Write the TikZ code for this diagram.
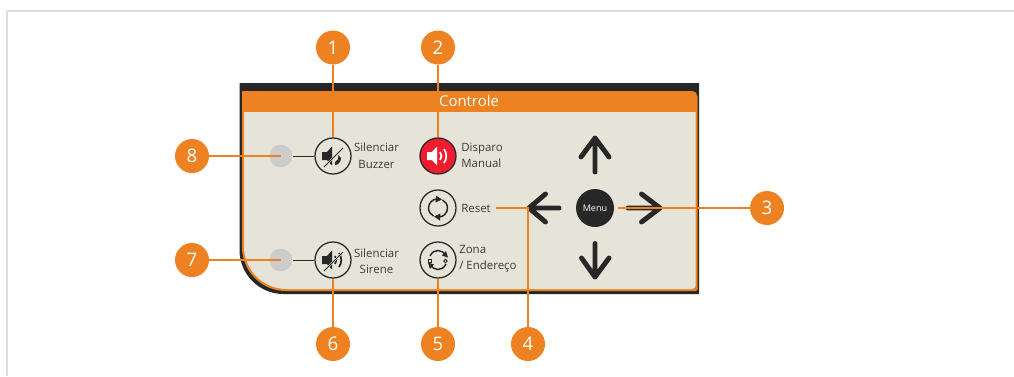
\documentclass[tikz,border=0pt]{standalone}
\usepackage{fontspec}
\setmainfont{Open Sans}
\definecolor{orng}{HTML}{EE8222}
\definecolor{dark}{HTML}{262726}
\definecolor{panel}{HTML}{E6E4D9}
\definecolor{led}{HTML}{CCCCCC}
\definecolor{redb}{HTML}{ED1C2E}
\definecolor{txt}{HTML}{3A3A3A}
\definecolor{edge}{HTML}{DDDDDD}
\tikzset{
  numdot/.style={circle,fill=orng,text=white,minimum size=25.5pt,inner sep=0pt,font=\fontsize{14}{15}\selectfont},
  btn/.style={circle,draw=dark,line width=0.95pt,minimum size=27pt,inner sep=0pt},
  ledlamp/.style={circle,fill=led,minimum size=17pt,inner sep=0pt},
  lbl/.style={inner sep=0pt,text=txt,font=\fontsize{8.6}{12.4}\selectfont},
  lead/.style={draw=orng,line width=1.8pt},
  padarrow/.style={draw=dark,line width=3.7pt,line cap=round,line join=round},
  pics/speaker/.style={code={
    \fill[#1] (-11,-4) -- (-6,-4) -- (-1,-9.5) -- (-1,9.5) -- (-6,4) -- (-11,4) -- cycle;
  }}
}
\begin{document}
\begin{tikzpicture}[x=0.75pt,y=-0.75pt]
\useasboundingbox (0,0) rectangle (1014,376);
\fill[white] (0,0) rectangle (1014,376);
\draw[edge,line width=1.5pt] (6.5,376) -- (6.5,10.5) -- (1014,10.5);
% panel
\fill[dark] (239.5,83) -- (699,83) -- (699,294) [rounded corners=33pt] -- (239.5,294) [sharp corners] -- cycle;
\fill[orng] [rounded corners=4pt] (242,91) -- (697.5,91) [rounded corners=1pt] -- (697.5,291) [rounded corners=33pt] -- (242,291) [sharp corners] -- cycle;
\fill[panel] (244,112) -- (695.7,112) [rounded corners=3pt] -- (695.7,289) [rounded corners=32pt] -- (244,289) [sharp corners] -- cycle;
\node[text=white,inner sep=0pt,font=\fontsize{11.2}{12}\selectfont] (title) at (469,101) {Controle};
% leds
\node[ledlamp] (led8) at (281,156) {};
\node[ledlamp] (led7) at (281,260) {};
% buttons
\node[btn] (buzzer) at (333,156) {};
\node[btn,fill=redb] (manual) at (438,156) {};
\node[btn] (reset) at (438,208) {};
\node[btn] (zone) at (438,260) {};
\node[btn] (sirene) at (333,260) {};
\node[circle,fill=dark,minimum size=28.5pt,inner sep=0pt,text=white,font=\fontsize{6.8}{8}\selectfont] (menu) at (595,208) {Menu};
\coordinate (stub8) at (293,156);
\coordinate (stub7) at (293,260);
\draw[dark,line width=0.75pt] (stub8) -- (buzzer.west);
\draw[dark,line width=0.75pt] (stub7) -- (sirene.west);
% icons
\begin{scope}[shift={(333,156)}]
  \pic {speaker={dark}};
  \fill[dark] (2,6) .. controls (5,5) and (6,2) .. (5.5,-1) -- (8,2) .. controls (8,6) and (5,9) .. (2,9) -- cycle;
  \draw[panel,line width=1.5pt] (-9,11) -- (10,-8);
  \draw[dark,line width=0.7pt] (-9,11) -- (10,-8);
\end{scope}
\begin{scope}[shift={(333,260)}]
  \pic {speaker={dark}};
  \draw[dark,line width=1.3pt] (2,-4) .. controls (4,-1.5) and (4,1.5) .. (2,4);
  \draw[dark,line width=1.3pt] (6,-7) .. controls (9,-3) and (9,3) .. (6,7);
  \draw[panel,line width=1.5pt] (-9,11) -- (10,-8);
  \draw[dark,line width=0.7pt] (-9,11) -- (10,-8);
\end{scope}
\begin{scope}[shift={(438,156)}]
  \pic {speaker={white}};
  \draw[white,line width=1.3pt] (2,-4) .. controls (4,-1.5) and (4,1.5) .. (2,4);
  \draw[white,line width=1.3pt] (6,-7) .. controls (9,-3) and (9,3) .. (6,7);
\end{scope}
\begin{scope}[shift={(438,208)}]
  \draw[dark,line width=1.1pt] (-4.5,8) .. controls (-7.5,6.5) and (-9.5,3.5) .. (-9.5,0) .. controls (-9.5,-5) and (-5.5,-9) .. (-1,-9);
  \draw[dark,line width=1.1pt] (4.5,-8) .. controls (7.5,-6.5) and (9.5,-3.5) .. (9.5,0) .. controls (9.5,5) and (5.5,9) .. (1,9);
  \fill[dark] (-2,-12.5) -- (4,-8.5) -- (-2.5,-5.5) -- cycle;
  \fill[dark] (2,12.5) -- (-4,8.5) -- (2.5,5.5) -- cycle;
\end{scope}
\begin{scope}[shift={(438,260)}]
  \draw[dark,line width=1.1pt] (-8,-4) .. controls (-6,-8) and (-3,-9.5) .. (0,-9.5) .. controls (3,-9.5) and (6,-8) .. (7.5,-4);
  \draw[dark,line width=1.1pt] (8,4) .. controls (6,8) and (3,9.5) .. (0,9.5) .. controls (-3,9.5) and (-6,8) .. (-7.5,4);
  \fill[dark] (4,-4.5) -- (10,-2.5) -- (8,-9) -- cycle;
  \fill[dark] (-4,4.5) -- (-10,2.5) -- (-8,9) -- cycle;
  \draw[dark,line width=0.6pt,fill=panel] (-10,-1) rectangle (-6.5,2.5);
  \draw[dark,line width=0.6pt,fill=panel] (7.5,1) circle (1.8);
\end{scope}
% labels
\node[lbl,align=center] (tbuzzer) at (376.5,155.5) {Silenciar\\Buzzer};
\node[lbl,align=center] (tsirene) at (376.5,261) {Silenciar\\Sirene};
\node[lbl,align=left,anchor=west] (tmanual) at (461,155.5) {Disparo\\Manual};
\node[lbl,anchor=west] (treset) at (461,208) {Reset};
\node[lbl,align=left,anchor=west] (tzone) at (459,259) {Zona\\/ Endereço};
% direction pad
\draw[padarrow] (595,172) -- (595,138) (581,157) -- (595,138) -- (609,157);
\draw[padarrow] (595,243.5) -- (595,277) (581.5,258) -- (595,277) -- (609,258);
\draw[padarrow] (559,208) -- (529,208) (545.5,194) -- (529,208) -- (545.5,222);
\draw[padarrow] (628,208) -- (660,208) (641.5,194) -- (660,208) -- (641.5,222);
% numbered markers
\node[numdot] (n1) at (333,47.5) {1};
\node[numdot] (n2) at (438,47.5) {2};
\node[numdot] (n3) at (767,208) {3};
\node[numdot] (n4) at (528,344) {4};
\node[numdot] (n5) at (438,344) {5};
\node[numdot] (n6) at (333,344) {6};
\node[numdot] (n7) at (192,260) {7};
\node[numdot] (n8) at (192,156) {8};
% leaders
\coordinate (end3) at (618,208);
\coordinate (bend4) at (528,208);
\coordinate (end4) at (496,208);
\draw[lead] (n1) -- (buzzer.north);
\draw[lead] (n2) -- (manual.north);
\draw[lead] (n3) -- (end3);
\draw[lead] (n4) -- (bend4) -- (end4);
\draw[lead] (n5) -- (zone.south);
\draw[lead] (n6) -- (sirene.south);
\draw[lead] (n7) -- (led7.center);
\draw[lead] (n8) -- (led8.center);
\end{tikzpicture}
\end{document}
